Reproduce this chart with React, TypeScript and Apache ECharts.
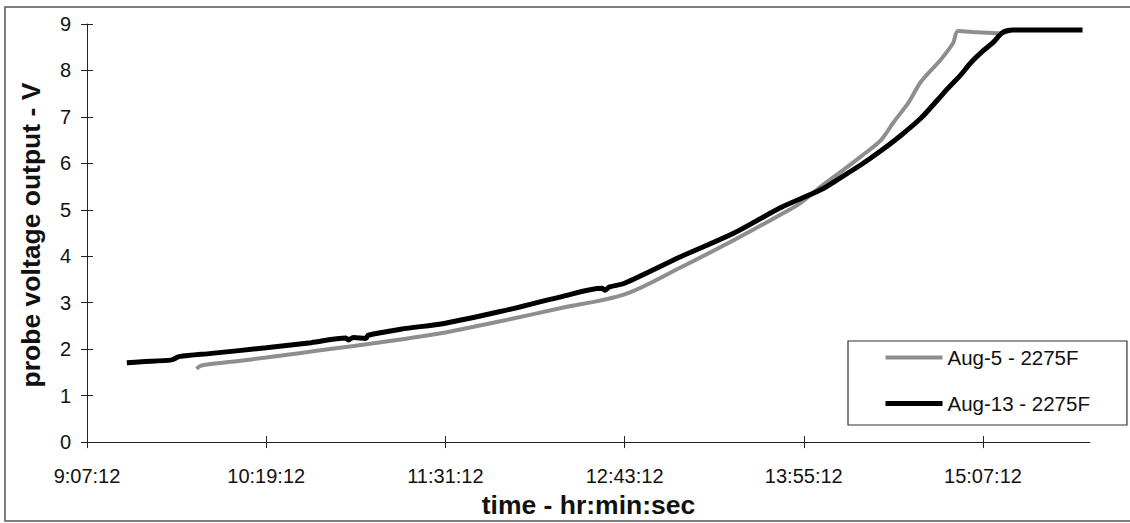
import React, { useEffect, useRef } from "react";
import * as echarts from "echarts";

// minutes after 9:07:12
const START_SECONDS = 9 * 3600 + 7 * 60 + 12;
const tickMinutes = [0, 72, 144, 216, 288, 360];
const yTicks = [0, 1, 2, 3, 4, 5, 6, 7, 8, 9];

const xTitle = "time - hr:min:sec";
const yTitle = "probe voltage output - V";

const aug5Name = "Aug-5 - 2275F";
const aug5Min = [44, 46, 60, 72, 86, 100, 113, 126, 144, 166, 190, 216, 238.5, 260, 278.8, 286.8, 296, 305.7, 311, 319, 324, 330, 335, 343, 348, 350, 358, 367, 371];
const aug5Volt = [1.58, 1.65, 1.74, 1.82, 1.92, 2.02, 2.11, 2.21, 2.36, 2.6, 2.88, 3.18, 3.76, 4.35, 4.9, 5.15, 5.55, 5.93, 6.15, 6.5, 6.88, 7.3, 7.75, 8.23, 8.59, 8.85, 8.82, 8.8, 8.85];

const aug13Name = "Aug-13 - 2275F";
const aug13Min = [16, 22, 34, 37, 50, 72, 90, 104, 105, 107, 112, 113, 126, 144, 166, 190, 207, 208, 210, 216, 238.5, 260, 278.8, 294.8, 303, 311, 319, 327, 335, 342, 346, 351, 355, 360, 364, 368, 372, 385, 400];
const aug13Volt = [1.71, 1.73, 1.77, 1.84, 1.91, 2.03, 2.14, 2.24, 2.2, 2.25, 2.23, 2.3, 2.43, 2.56, 2.81, 3.12, 3.31, 3.27, 3.34, 3.42, 3.99, 4.5, 5.05, 5.43, 5.7, 5.97, 6.27, 6.6, 6.97, 7.38, 7.62, 7.9, 8.16, 8.42, 8.6, 8.82, 8.87, 8.87, 8.87];

const FONT = "Arial, 'Liberation Sans', sans-serif";

function fmtTime(v: number): string {
  const s = Math.round(START_SECONDS + v * 60);
  const h = Math.floor(s / 3600);
  const m = Math.floor((s % 3600) / 60);
  const sec = s % 60;
  return `${h}:${String(m).padStart(2, "0")}:${String(sec).padStart(2, "0")}`;
}

export default function App() {
  const ref = useRef<HTMLDivElement>(null);
  useEffect(() => {
    if (!ref.current) return;
    const chart = echarts.init(ref.current, undefined, { renderer: "svg" });
    const axisLine = { lineStyle: { color: "#222", width: 1 } };
    const xCommon = {
      type: "value" as const,
      min: 0,
      max: 403,
      splitLine: { show: false },
    };
    const yCommon = {
      type: "value" as const,
      min: 0,
      max: 9,
      interval: 1,
      splitLine: { show: false },
    };
    chart.setOption({
      animation: false,
      backgroundColor: "#fff",
      grid: { left: 87, right: 40, top: 24, bottom: 80, containLabel: false },
      graphic: [
        {
          type: "rect",
          shape: { x: 5, y: 7, width: 1135, height: 514 },
          style: { fill: "none", stroke: "#555", lineWidth: 1.5 },
          silent: true,
          z: -10,
        },
        {
          type: "text",
          x: 31,
          y: 235,
          rotation: Math.PI / 2,
          style: {
            text: yTitle,
            fontSize: 26.5,
            fontWeight: "bold",
            fontFamily: FONT,
            fill: "#111",
            align: "center",
            verticalAlign: "middle",
          },
          silent: true,
        },
      ],
      legend: {
        left: 848,
        top: 341,
        orient: "vertical",
        data: [aug5Name, aug13Name],
        itemWidth: 57,
        itemHeight: 20,
        itemGap: 25,
        padding: [6, 37, 11, 35],
        borderColor: "#333",
        borderWidth: 1.2,
        backgroundColor: "#fff",
        itemStyle: { opacity: 0 },
        lineStyle: { width: "inherit" },
        textStyle: { fontSize: 20.5, fontFamily: FONT, color: "#111" },
      },
      xAxis: [
        {
          ...xCommon,
          name: xTitle,
          nameLocation: "middle",
          nameGap: 46,
          nameTextStyle: { fontSize: 26.5, fontWeight: "bold", fontFamily: FONT, color: "#111" },
          axisLine,
          axisTick: { show: true, length: 6, lineStyle: { color: "#222" }, customValues: tickMinutes },
          axisLabel: {
            customValues: tickMinutes,
            formatter: (v: number) => fmtTime(v),
            fontSize: 20,
            fontFamily: FONT,
            color: "#111",
            margin: 24,
          },
        },
        {
          ...xCommon,
          position: "bottom",
          axisLine: { show: false },
          axisTick: { show: true, inside: true, length: 6, lineStyle: { color: "#222" }, customValues: tickMinutes },
          axisLabel: { show: false },
        },
      ],
      yAxis: [
        {
          ...yCommon,
          axisLine: { show: true, ...axisLine },
          axisTick: { show: true, length: 6, lineStyle: { color: "#222" } },
          axisLabel: {
            formatter: (v: number) => (yTicks.includes(v) ? String(v) : ""),
            fontSize: 20,
            fontFamily: FONT,
            color: "#111",
            margin: 16,
          },
        },
        {
          ...yCommon,
          position: "left",
          axisLine: { show: false },
          axisTick: { show: true, inside: true, length: 6, lineStyle: { color: "#222" } },
          axisLabel: { show: false },
        },
      ],
      series: [
        {
          name: aug5Name,
          type: "line",
          symbol: "none",
          smooth: 0.3,
          data: aug5Min.map((m, i) => [m, aug5Volt[i]]),
          lineStyle: { color: "#8e8e8e", width: 4 },
          itemStyle: { color: "#8e8e8e" },
        },
        {
          name: aug13Name,
          type: "line",
          symbol: "none",
          smooth: 0.3,
          data: aug13Min.map((m, i) => [m, aug13Volt[i]]),
          lineStyle: { color: "#000", width: 5 },
          itemStyle: { color: "#000" },
        },
      ],
    });
    return () => chart.dispose();
  }, []);
  return (
    <div
      ref={ref}
      style={{ position: "absolute", left: 0, top: 0, width: 1130, height: 523 }}
    />
  );
}
